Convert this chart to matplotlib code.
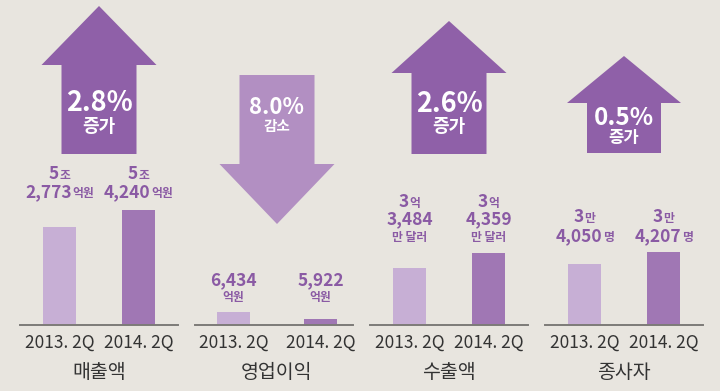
import re
import matplotlib
matplotlib.use('Agg')
import matplotlib.pyplot as plt
from matplotlib.patches import Polygon
from matplotlib.offsetbox import TextArea, HPacker, AnnotationBbox

plt.rcParams['font.family'] = ['Noto Sans CJK KR', 'DejaVu Sans']

# data
categories = ['매출액', '영업이익', '수출액', '종사자']
periods = ['2013. 2Q', '2014. 2Q']
bar_heights = [[98, 115], [13, 6], [57, 72], [61, 73]]   # bar heights as drawn
changes = ['2.8%', '8.0%', '2.6%', '0.5%']
directions = ['증가', '감소', '증가', '증가']
value_labels = [
    ['5조\n2,773억원', '5조\n4,240억원'],
    ['6,434\n억원', '5,922\n억원'],
    ['3억\n3,484\n만 달러', '3억\n4,359\n만 달러'],
    ['3만\n4,050명', '3만\n4,207명'],
]

# layout (pixels, image y grows downward)
W, H = 720, 391
BASE = 324.5
panel_left = [20, 195, 370, 545]
PANEL_W = 158
bar_x = [[39.5, 118.5], [38.5, 125.5], [39.5, 118.5], [39.5, 118.5]]
BAR_W = 33
label_top = [174, 280, 202, 217]
line_gap = [18, 17, 17.5, 19]
# shaft half width, head half width, shaft end, head base, tip
arrow_geo = [(37.5, 57.5, 154, 65, 6),
             (37.5, 57.5, 75, 164, 224),
             (37.5, 57.5, 154, 73, 21),
             (37, 57, 153, 103, 56)]
arrow_text = [(103, 127, 19.5, 13), (108, 126, 16, 10.5),
              (104, 127, 19.5, 13), (118, 138, 17.5, 12)]
arrow_col = ['#8f60a8', '#b28fc2', '#8f60a8', '#8f60a8']
bar_col = ['#c7afd5', '#a077b4']
label_col = '#8a5aa4'
bg = '#e8e5df'

fig = plt.figure(figsize=(W / 100, H / 100), dpi=100, facecolor=bg)


def label_line(ax, x, y, line):
    parts = re.findall(r'[0-9,.]+|[^0-9,.]+', line)
    boxes = []
    for p in parts:
        big = re.match(r'[0-9,.]', p) is not None
        boxes.append(TextArea(p, textprops=dict(
            color=label_col, fontweight='bold',
            fontsize=12.5 if big else 8.5)))
    pack = HPacker(children=boxes, align='baseline', pad=0, sep=0.5)
    ab = AnnotationBbox(pack, (x, y), xycoords=ax.transData, frameon=False,
                        box_alignment=(0.5, 0.5), pad=0, annotation_clip=False)
    ax.add_artist(ab)


for i, cat in enumerate(categories):
    ax = fig.add_axes([panel_left[i] / W, (H - BASE) / H, PANEL_W / W, BASE / H])
    ax.set_xlim(0, PANEL_W)
    ax.set_ylim(0, BASE)
    ax.patch.set_visible(False)
    for s in ['top', 'left', 'right']:
        ax.spines[s].set_visible(False)
    ax.spines['bottom'].set_color('#7d7b78')
    ax.spines['bottom'].set_linewidth(1.4)
    ax.set_xticks([])
    ax.set_yticks([])

    ax.bar(bar_x[i], bar_heights[i], width=BAR_W, color=bar_col, zorder=2)

    for j, per in enumerate(periods):
        ax.text(bar_x[i][j], BASE - 343, per, ha='center', va='center',
                fontsize=12.5, color='#333333', fontweight='light')
        lines = value_labels[i][j].split('\n')
        for k, ln in enumerate(lines):
            label_line(ax, bar_x[i][j], BASE - (label_top[i] + k * line_gap[i]), ln)
    ax.text(sum(bar_x[i]) / 2, BASE - 372, cat, ha='center', va='center',
            fontsize=14, color='#333333', fontweight='light')

    # arrow
    cx = sum(bar_x[i]) / 2
    sh, hh, e, b, t = arrow_geo[i]
    pts = [(cx - sh, e), (cx - sh, b), (cx - hh, b), (cx, t),
           (cx + hh, b), (cx + sh, b), (cx + sh, e)]
    pts = [(x, BASE - y) for x, y in pts]
    ax.add_patch(Polygon(pts, closed=True, facecolor=arrow_col[i],
                         edgecolor='none', clip_on=False, zorder=3))
    py, wy, ps, ws = arrow_text[i]
    ax.text(cx, BASE - py, changes[i], ha='center', va='center', color='white',
            fontsize=ps, fontweight='bold', zorder=4)
    ax.text(cx, BASE - wy, directions[i], ha='center', va='center', color='white',
            fontsize=ws, fontweight='bold', zorder=4)

fig.savefig('out.png', dpi=100, facecolor=bg)
